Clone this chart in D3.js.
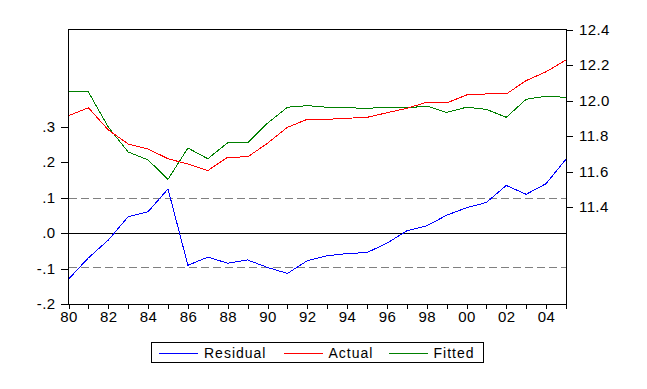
<!DOCTYPE html>
<html>
<head>
<meta charset="utf-8">
<script src="https://cdn.jsdelivr.net/npm/d3@7"></script>
<style>
  body { margin: 0; background: #fff; }
  svg text { font-family: "Liberation Sans", Arial, sans-serif; fill: #000; }
  svg line, svg path, svg rect { shape-rendering: crispEdges; }
</style>
</head>
<body>
<svg id="chart" width="647" height="389"></svg>
<script>
const years = d3.range(1980, 2006);

// residuals (left axis)
const residual = [-0.130, -0.070, -0.020, 0.046, 0.060, 0.124, -0.091, -0.068, -0.085, -0.076,
  -0.097, -0.114, -0.078, -0.064, -0.058, -0.055, -0.029, 0.006, 0.020, 0.050,
  0.071, 0.086, 0.134, 0.109, 0.139, 0.208];

// actual and fitted (right axis)
const actual = [11.914, 11.959, 11.834, 11.755, 11.727, 11.672, 11.642, 11.605, 11.681, 11.682,
  11.759, 11.849, 11.894, 11.894, 11.900, 11.905, 11.931, 11.956, 11.990, 11.986,
  12.031, 12.037, 12.037, 12.112, 12.162, 12.228];
const fitted = [12.048, 12.048, 11.850, 11.710, 11.665, 11.556, 11.732, 11.672, 11.762, 11.761,
  11.872, 11.962, 11.971, 11.962, 11.959, 11.956, 11.962, 11.958, 11.969, 11.933,
  11.962, 11.950, 11.905, 12.007, 12.024, 12.018];

const leftTicks = [-0.2, -0.1, 0, 0.1, 0.2, 0.3];
const rightTicks = [11.4, 11.6, 11.8, 12.0, 12.2, 12.4];
const xLabelYears = d3.range(1980, 2006, 2);
const sigma = 0.096;

const legendItems = [
  { name: "Residual", color: "#0000ff" },
  { name: "Actual", color: "#ff0000" },
  { name: "Fitted", color: "#008000" }
];

const svg = d3.select("#chart");
const pL = 68.5, pR = 566, pT = 29.5, pB = 304;

const x = d3.scaleLinear().domain([1980, 2005]).range([pL, pR]);
const yL = d3.scaleLinear().domain([-0.2, 0.3]).range([pB, pB - 5 * 35.5]);
const yR = d3.scaleLinear().domain([11.4, 12.4]).range([pT + 5 * 35.5, pT]);

const fmtL = d => d === 0 ? ".0" : (d < 0 ? "-" : "") + "." + Math.round(Math.abs(d) * 10);

// dashed sigma lines and zero line
[sigma, -sigma].forEach(v => {
  svg.append("line")
    .attr("x1", pL).attr("x2", pR)
    .attr("y1", yL(v)).attr("y2", yL(v))
    .attr("stroke", "#808080").attr("stroke-dasharray", "8,4");
});
svg.append("line")
  .attr("x1", pL).attr("x2", pR)
  .attr("y1", yL(0)).attr("y2", yL(0))
  .attr("stroke", "#000");

// series
const lineL = d3.line().x((d, i) => x(years[i])).y(d => yL(d));
const lineR = d3.line().x((d, i) => x(years[i])).y(d => yR(d));

svg.append("path").datum(fitted).attr("d", lineR)
  .attr("fill", "none").attr("stroke", "#008000");
svg.append("path").datum(actual).attr("d", lineR)
  .attr("fill", "none").attr("stroke", "#ff0000");
svg.append("path").datum(residual).attr("d", lineL)
  .attr("fill", "none").attr("stroke", "#0000ff");

// frame
svg.append("rect")
  .attr("x", pL).attr("y", pT)
  .attr("width", pR - pL).attr("height", pB - pT)
  .attr("fill", "none").attr("stroke", "#000");

// axes
const fontSize = "15px";
const axL = svg.append("g").attr("transform", `translate(${pL},0)`)
  .call(d3.axisLeft(yL).tickValues(leftTicks).tickFormat(fmtL).tickSize(8).tickPadding(5));
const axR = svg.append("g").attr("transform", `translate(${pR},0)`)
  .call(d3.axisRight(yR).tickValues(rightTicks).tickFormat(d3.format(".1f")).tickSize(7).tickPadding(6));
const axB = svg.append("g").attr("transform", `translate(0,${pB})`)
  .call(d3.axisBottom(x).tickValues(years).tickSize(5).tickPadding(2)
    .tickFormat(d => xLabelYears.includes(d) ? String(d).slice(2) : ""));

[axL, axR, axB].forEach(a => {
  a.select(".domain").remove();
  a.selectAll("line").attr("stroke", "#000");
  a.selectAll("text").attr("font-size", fontSize).attr("fill", "#000")
    .attr("font-family", "Liberation Sans, Arial, sans-serif")
    .style("letter-spacing", "0.4px");
});

// legend
const lg = svg.append("g");
lg.append("rect")
  .attr("x", 151.5).attr("y", 342.5).attr("width", 332).attr("height", 19.5)
  .attr("fill", "#fff").attr("stroke", "#000");
const legendX = [159, 283.5, 388.5];
legendItems.forEach((it, i) => {
  lg.append("line")
    .attr("x1", legendX[i]).attr("x2", legendX[i] + 39)
    .attr("y1", 353).attr("y2", 353)
    .attr("stroke", it.color);
  lg.append("text")
    .attr("x", legendX[i] + 45).attr("y", 358)
    .attr("font-size", "14px")
    .style("letter-spacing", "1px")
    .text(it.name);
});
</script>
</body>
</html>
